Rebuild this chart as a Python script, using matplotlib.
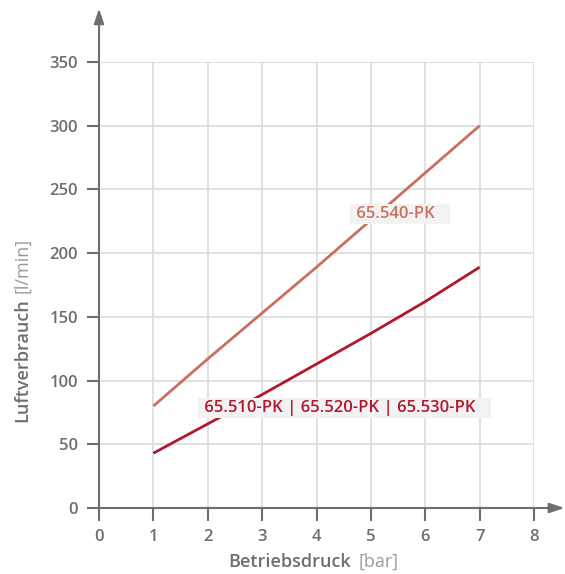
import matplotlib.pyplot as plt

# Betriebsdruck [bar] vs. Luftverbrauch [l/min]
druck = [1, 2, 3, 4, 5, 6, 7]
pk540 = [80, 117, 153, 189, 226, 263, 300]
pk510 = [43, 66, 89, 113, 137, 162, 189]
x_ticks = [0, 1, 2, 3, 4, 5, 6, 7, 8]
y_ticks = [0, 50, 100, 150, 200, 250, 300, 350]

grau = '#6e6e6e'
hell = '#c8705e'
dunkel = '#b0182e'

plt.rcParams['font.family'] = ['Open Sans', 'DejaVu Sans']

fig = plt.figure(figsize=(5.65, 5.74), dpi=100)
ax = fig.add_axes([99 / 565, 66 / 574, 435 / 565, 446 / 574])
ax.set_xlim(0, 8)
ax.set_ylim(0, 350)

ax.grid(True, color='#dcdcdc', linewidth=1.2)
ax.set_axisbelow(True)
for s in ['top', 'right', 'left', 'bottom']:
    ax.spines[s].set_visible(False)

ax.set_xticks(x_ticks)
ax.set_yticks(y_ticks)
ax.tick_params(colors=grau, labelsize=12, width=1.5, length=9, pad=6)
for lab in ax.get_xticklabels() + ax.get_yticklabels():
    lab.set_fontweight('semibold')

# Achsen mit Pfeilen
ax.annotate('', xy=(1.07, 0), xytext=(0, 0), xycoords='axes fraction',
            arrowprops=dict(arrowstyle='-|>,head_length=0.9,head_width=0.3',
                            color=grau, lw=1.5, shrinkA=0, shrinkB=0),
            annotation_clip=False)
ax.annotate('', xy=(0, 1.12), xytext=(0, 0), xycoords='axes fraction',
            arrowprops=dict(arrowstyle='-|>,head_length=0.9,head_width=0.3',
                            color=grau, lw=1.5, shrinkA=0, shrinkB=0),
            annotation_clip=False)

ax.plot(druck, pk540, color=hell, linewidth=2, solid_capstyle='butt')
ax.plot(druck, pk510, color=dunkel, linewidth=2, solid_capstyle='butt')

ax.text(5.53, 231, ' 65.540-PK   ', color=hell, fontsize=12, fontweight='semibold',
        ha='center', va='center',
        bbox=dict(facecolor='#f2f2f2', edgecolor='none', pad=1.5))
ax.text(4.52, 78.5, ' 65.510-PK | 65.520-PK | 65.530-PK   ', color=dunkel, fontsize=12,
        fontweight='semibold', ha='center', va='center',
        bbox=dict(facecolor='#f2f2f2', edgecolor='none', pad=1.5))

# Achsenbeschriftungen (fett + normal)
fig.text(228 / 565, 1 - 562 / 574, 'Betriebsdruck', color=grau, fontsize=13,
         fontweight='semibold', ha='left', va='center')
fig.text(358 / 565, 1 - 562 / 574, '[bar]', color='#999999', fontsize=13,
         ha='left', va='center')

yl = fig.text(22 / 565, 1 - 422 / 574, 'Luftverbrauch', color=grau, fontsize=13,
              fontweight='semibold', rotation=90, ha='center', va='bottom')
fig.canvas.draw()
bb = yl.get_window_extent()
fig.text(22 / 565, (bb.y1 + 5) / 574, '[l/min]', color='#999999', fontsize=13,
         rotation=90, ha='center', va='bottom')

fig.savefig('out.png', dpi=100)
